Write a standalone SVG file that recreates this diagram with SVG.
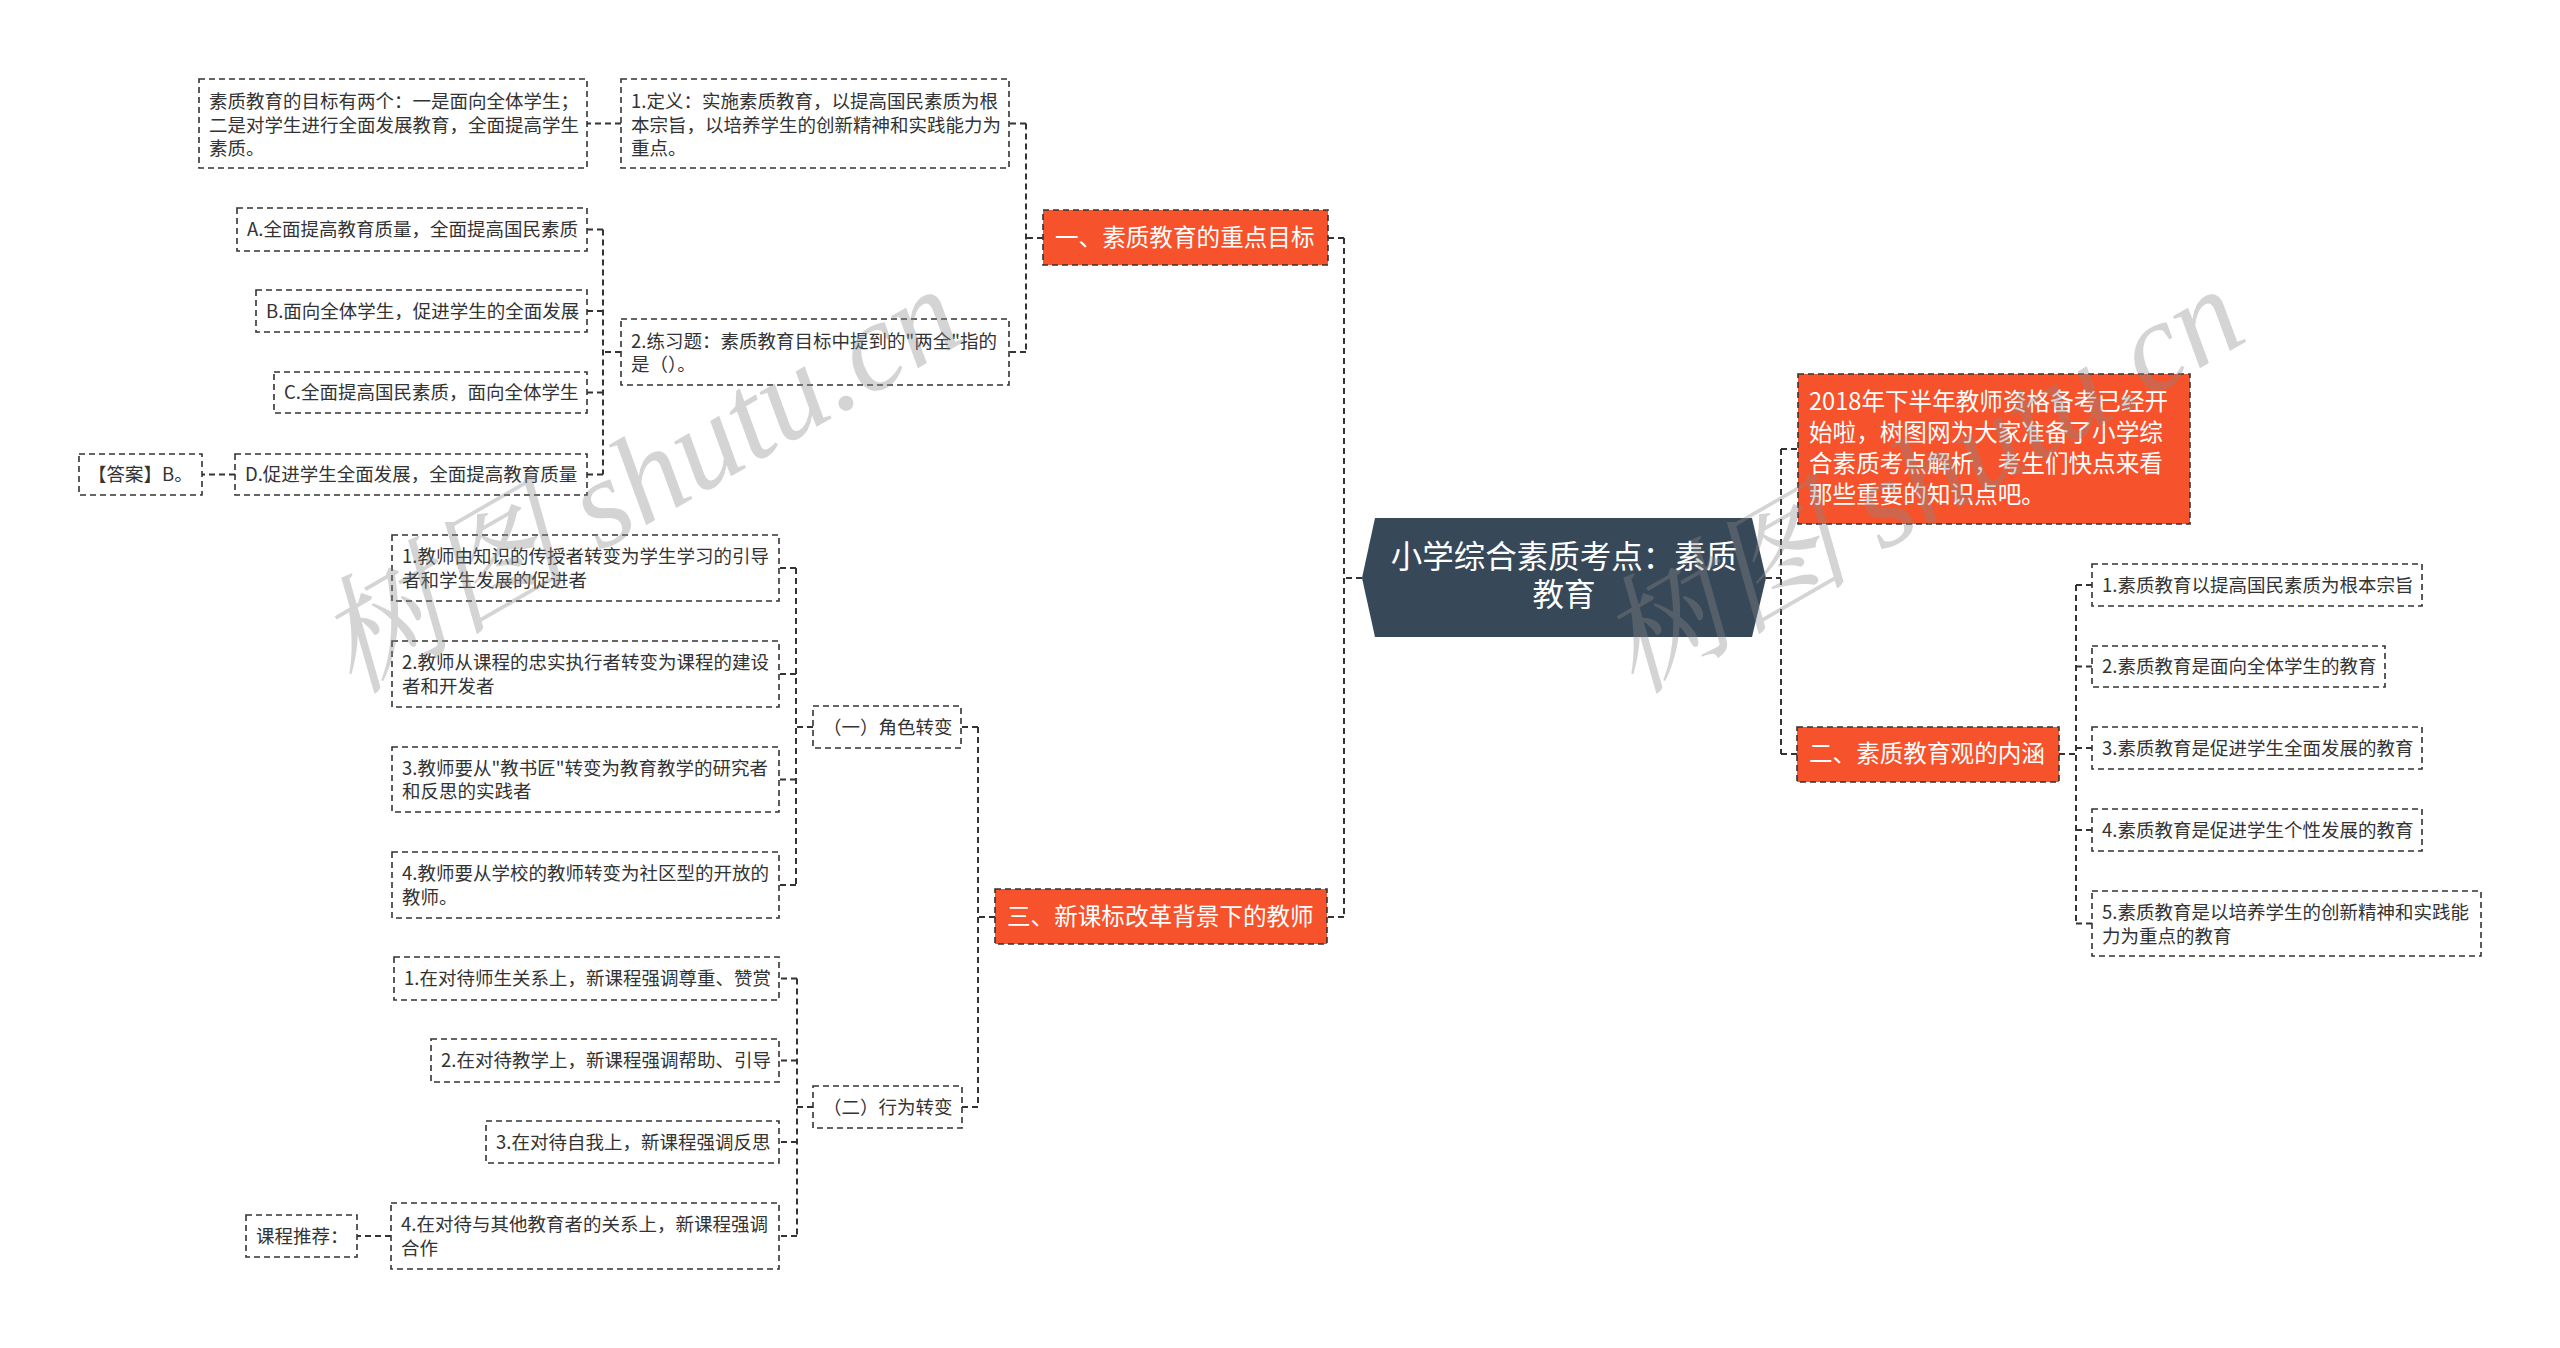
<svg xmlns="http://www.w3.org/2000/svg" width="2560" height="1348" viewBox="0 0 2560 1348">
<style>
.box{fill:#ffffff;stroke:#333333;stroke-width:1.6;stroke-dasharray:6 4}
.br{fill:#F6522B;stroke:#333333;stroke-width:1.6;stroke-dasharray:6 4}
.t{font-family:"Noto Sans CJK SC","Noto Sans",sans-serif;font-size:18.5px;fill:#333333}
.tb{font-family:"Noto Sans CJK SC","Noto Sans",sans-serif;font-size:23.6px;fill:#ffffff}
.tc{font-family:"Noto Sans CJK SC","Noto Sans",sans-serif;font-size:31.5px;fill:#ffffff}
.c{fill:none;stroke:#333333;stroke-width:2;stroke-dasharray:6 4}
.wm{font-family:"Liberation Serif","Noto Serif CJK SC","Noto Sans CJK SC",serif;font-style:italic;font-size:127px;fill:#8a8a8a;opacity:0.36}
</style>
<rect x="0" y="0" width="2560" height="1348" fill="#ffffff"/>
<g id="connectors">
<path class="c" d="M1362 578H1344M1344 238V917M1344 238H1328M1344 917H1327"/>
<path class="c" d="M1766 578H1781M1781 449V754M1781 449H1798M1781 754H1797"/>
<path class="c" d="M1043 238H1026M1026 123.5V352M1026 123.5H1009M1026 352H1009"/>
<path class="c" d="M621 123.5H587"/>
<path class="c" d="M621 352H603M603 229.5V474.5M603 229.5H587M603 311H587M603 392.5H587M603 474.5H587"/>
<path class="c" d="M235 474.5H202"/>
<path class="c" d="M995 917H978M978 727V1107M978 727H961M978 1107H962"/>
<path class="c" d="M813 727H796M796 568V885M796 568H779M796 674H779M796 779.5H779M796 885H779"/>
<path class="c" d="M813 1107H797M797 978.5V1236M797 978.5H779M797 1060.5H779M797 1142H779M797 1236H779"/>
<path class="c" d="M391 1236H357"/>
<path class="c" d="M2059 754H2076M2076 585V923.5M2076 585H2092M2076 666.5H2092M2076 748H2092M2076 830H2092M2076 923.5H2092"/>
</g>
<g id="center">
<polygon points="1375,518 1752,518 1766,578 1752,637 1375,637 1362,578" fill="#374858"/>
<text class="tc" x="1564" y="567.5" text-anchor="middle">小学综合素质考点：素质</text>
<text class="tc" x="1564" y="606" text-anchor="middle">教育</text>
</g>
<g id="branch1">
<rect class="br" x="1043" y="210" width="285" height="55"/>
<text class="tb" x="1055" y="246.3">一、素质教育的重点目标</text>
</g>
<g id="n-def">
<rect class="box" x="621" y="79" width="388" height="89"/>
<text class="t" x="631" y="108">1.定义：实施素质教育，以提高国民素质为根</text>
<text class="t" x="631" y="131.5">本宗旨，以培养学生的创新精神和实践能力为</text>
<text class="t" x="631" y="155">重点。</text>
</g>
<g id="n-goal">
<rect class="box" x="199" y="79" width="388" height="89"/>
<text class="t" x="209" y="108">素质教育的目标有两个：一是面向全体学生；</text>
<text class="t" x="209" y="131.5">二是对学生进行全面发展教育，全面提高学生</text>
<text class="t" x="209" y="155">素质。</text>
</g>
<g id="n-ex">
<rect class="box" x="621" y="319" width="388" height="66"/>
<text class="t" x="631" y="347.5">2.练习题：素质教育目标中提到的"两全"指的</text>
<text class="t" x="631" y="371">是（）。</text>
</g>
<g id="n-a">
<rect class="box" x="237" y="208" width="350" height="43"/>
<text class="t" x="247" y="236">A.全面提高教育质量，全面提高国民素质</text>
</g>
<g id="n-b">
<rect class="box" x="256" y="290" width="331" height="42"/>
<text class="t" x="266" y="317.5">B.面向全体学生，促进学生的全面发展</text>
</g>
<g id="n-c">
<rect class="box" x="274" y="372" width="313" height="41"/>
<text class="t" x="284" y="399">C.全面提高国民素质，面向全体学生</text>
</g>
<g id="n-d">
<rect class="box" x="235" y="454" width="352" height="41"/>
<text class="t" x="245" y="481">D.促进学生全面发展，全面提高教育质量</text>
</g>
<g id="n-ans">
<rect class="box" x="79" y="454" width="123" height="41"/>
<text class="t" x="88" y="481">【答案】B。</text>
</g>
<g id="branch3">
<rect class="br" x="995" y="889" width="332" height="55"/>
<text class="tb" x="1007" y="925.3">三、新课标改革背景下的教师</text>
</g>
<g id="n-role">
<rect class="box" x="813" y="706" width="148" height="42"/>
<text class="t" x="823" y="733.5">（一）角色转变</text>
</g>
<g id="n-r1">
<rect class="box" x="392" y="535" width="387" height="66"/>
<text class="t" x="402" y="563">1.教师由知识的传授者转变为学生学习的引导</text>
<text class="t" x="402" y="586.5">者和学生发展的促进者</text>
</g>
<g id="n-r2">
<rect class="box" x="392" y="641" width="387" height="66"/>
<text class="t" x="402" y="669">2.教师从课程的忠实执行者转变为课程的建设</text>
<text class="t" x="402" y="692.5">者和开发者</text>
</g>
<g id="n-r3">
<rect class="box" x="392" y="747" width="387" height="65"/>
<text class="t" x="402" y="774.5">3.教师要从"教书匠"转变为教育教学的研究者</text>
<text class="t" x="402" y="798">和反思的实践者</text>
</g>
<g id="n-r4">
<rect class="box" x="392" y="852" width="387" height="66"/>
<text class="t" x="402" y="880">4.教师要从学校的教师转变为社区型的开放的</text>
<text class="t" x="402" y="903.5">教师。</text>
</g>
<g id="n-beh">
<rect class="box" x="813" y="1086" width="149" height="42"/>
<text class="t" x="823" y="1113.5">（二）行为转变</text>
</g>
<g id="n-b1">
<rect class="box" x="394" y="957" width="385" height="43"/>
<text class="t" x="404" y="985">1.在对待师生关系上，新课程强调尊重、赞赏</text>
</g>
<g id="n-b2">
<rect class="box" x="431" y="1039" width="348" height="43"/>
<text class="t" x="441" y="1067">2.在对待教学上，新课程强调帮助、引导</text>
</g>
<g id="n-b3">
<rect class="box" x="486" y="1121" width="293" height="42"/>
<text class="t" x="496" y="1148.5">3.在对待自我上，新课程强调反思</text>
</g>
<g id="n-b4">
<rect class="box" x="391" y="1203" width="388" height="66"/>
<text class="t" x="401" y="1231">4.在对待与其他教育者的关系上，新课程强调</text>
<text class="t" x="401" y="1254.5">合作</text>
</g>
<g id="n-rec">
<rect class="box" x="246" y="1215" width="111" height="42"/>
<text class="t" x="256" y="1242.5">课程推荐：</text>
</g>
<g id="n-intro">
<rect class="br" x="1798" y="374" width="392" height="150"/>
<text class="tb" x="1809" y="409.5">2018年下半年教师资格备考已经开</text>
<text class="tb" x="1809" y="440.5">始啦，树图网为大家准备了小学综</text>
<text class="tb" x="1809" y="471.5">合素质考点解析，考生们快点来看</text>
<text class="tb" x="1809" y="502.5">那些重要的知识点吧。</text>
</g>
<g id="branch2">
<rect class="br" x="1797" y="727" width="262" height="55"/>
<text class="tb" x="1809" y="762.3">二、素质教育观的内涵</text>
</g>
<g id="n-q1">
<rect class="box" x="2092" y="564" width="330" height="42"/>
<text class="t" x="2102" y="591.5">1.素质教育以提高国民素质为根本宗旨</text>
</g>
<g id="n-q2">
<rect class="box" x="2092" y="646" width="293" height="41"/>
<text class="t" x="2102" y="673">2.素质教育是面向全体学生的教育</text>
</g>
<g id="n-q3">
<rect class="box" x="2092" y="727" width="330" height="42"/>
<text class="t" x="2102" y="754.5">3.素质教育是促进学生全面发展的教育</text>
</g>
<g id="n-q4">
<rect class="box" x="2092" y="809" width="330" height="42"/>
<text class="t" x="2102" y="836.5">4.素质教育是促进学生个性发展的教育</text>
</g>
<g id="n-q5">
<rect class="box" x="2092" y="891" width="389" height="65"/>
<text class="t" x="2102" y="919">5.素质教育是以培养学生的创新精神和实践能</text>
<text class="t" x="2102" y="942.5">力为重点的教育</text>
</g>
<g id="watermark">
<text class="wm" transform="translate(352,695) rotate(-30)">树图 shutu.cn</text>
<text class="wm" transform="translate(1634,695) rotate(-30)">树图 shutu.cn</text>
</g>
</svg>
